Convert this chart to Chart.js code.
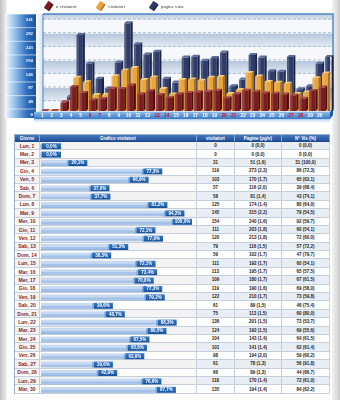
<!DOCTYPE html>
<html>
<head>
<meta charset="utf-8">
<script src="https://cdn.jsdelivr.net/npm/chart.js@4.4.1/dist/chart.umd.min.js"></script>
<style>
html, body { margin: 0; padding: 0; }
body { width: 340px; height: 400px; position: relative; overflow: hidden; background: #fff; font-family: "Liberation Sans", Arial, sans-serif; }
#sideL { position: absolute; left: 0; top: 0; width: 7px; height: 400px; background: linear-gradient(90deg, #c2c2c2, #dedede 60%, #f3f3f3); }
#sideR { position: absolute; right: 0; top: 0; width: 8px; height: 400px; background: linear-gradient(90deg, #f4f4f4, #dfdfdf 50%, #cbcbcb); }
#chart3d { position: absolute; left: 0; top: 0; }
#tbl { position: absolute; left: 14px; top: 134px; display: grid; grid-template-columns: 25px 157px 38px 47px 48px; grid-template-rows: 7px repeat(30, 8.4px); border-left: 1px solid #9cb0c8; border-top: 1px solid #9cb0c8; }
.c { box-sizing: border-box; border-right: 1px solid #c6d0dc; border-bottom: 1px solid #c6d0dc; font-size: 4.5px; font-weight: bold; display: flex; align-items: center; justify-content: center; color: #222; white-space: nowrap; overflow: hidden; }
.h { background: linear-gradient(#4679be, #21509a); color: #fff; border-right-color: #86a6d2; border-bottom-color: #1b4688; }
.g { color: #8a1c1c; font-size: 5px; }
.godd { background: #f3f3f3; }
.geven { background: #fff; }
.odd { background: #e9eef5; }
.even { background: #fff; }
#graf { position: absolute; left: 40px; top: 142px; }
</style>
</head>
<body>
<div id="sideL"></div>
<div id="sideR"></div>
<canvas id="chart3d" width="340" height="128"></canvas>
<div id="tbl"></div>
<canvas id="graf" width="157" height="252"></canvas>
<script>
const dayNames = ['Lun, 1','Mar, 2','Mer, 3','Gio, 4','Ven, 5','Sab, 6','Dom, 7','Lun, 8','Mar, 9','Mer, 10',
  'Gio, 11','Ven, 12','Sab, 13','Dom, 14','Lun, 15','Mar, 16','Mer, 17','Gio, 18','Ven, 19','Sab, 20',
  'Dom, 21','Lun, 22','Mar, 23','Mer, 24','Gio, 25','Ven, 26','Sab, 27','Dom, 28','Lun, 29','Mar, 30'];
const floorLabels = ['1','2','3','4','5','6','7','8','9','10','11','12','13','14','15',
  '16','17','18','19','20','21','22','23','24','25','26','27','28','29','30'];
const visitatori = [0,0,31,119,103,57,58,125,145,154,111,120,79,59,111,113,109,119,122,61,75,136,124,104,101,98,61,66,118,135];
const pagine = [0,0,51,273,170,116,81,174,315,240,203,213,116,102,192,195,180,190,210,89,113,201,192,143,141,194,78,89,170,194];
const pagineRatio = ['0,0','0,0','1,6','2,3','1,7','2,0','1,4','1,4','2,2','1,6','1,8','1,8','1,5','1,7','1,7',
  '1,7','1,7','1,6','1,7','1,5','1,5','1,5','1,5','1,4','1,4','2,0','1,3','1,3','1,4','1,4'];
const nVisite = [0,0,31,86,65,39,43,80,79,92,60,72,57,47,60,65,67,69,73,46,60,73,69,64,62,59,56,44,72,84];
const nVisitePct = ['0,0','0,0','100,0','72,3','63,1','68,4','74,1','64,0','54,5','59,7','54,1','60,0','72,2','79,7','54,1',
  '57,5','61,5','58,0','59,8','75,4','80,0','53,7','55,6','61,5','61,4','60,2','91,8','66,7','61,0','62,2'];
const quota = [0.0,0.0,20.1,77.3,66.9,37.0,37.7,81.2,94.2,100.0,72.1,77.9,51.3,38.3,72.1,
  73.4,70.8,77.3,79.2,39.6,48.7,88.3,80.5,67.5,65.6,63.6,39.6,42.9,76.6,87.7];
const yTicks = [0,48,97,146,194,243,292,341];
const headers = ['Giorno','Grafico visitatori','visitatori','Pagine (pg/v)','N° Vis (%)'];

const weekend = dayNames.map(d => d.startsWith('Sab') || d.startsWith('Dom'));

// wall, banded back panel and floor behind the bars
const backdrop3d = {
  id: 'backdrop3d',
  beforeDraw(chart) {
    const { ctx, chartArea: a, scales: { y } } = chart;
    const off = 4, top = a.top - 2, right = a.right + 3;
    ctx.save();
    const edges = [top].concat(yTicks.slice().reverse().map(v => y.getPixelForValue(v) + off));
    for (let k = 0; k < edges.length - 1; k++) {
      const y0 = edges[k], y1 = edges[k + 1];
      if (k % 2 === 0) {
        const g = ctx.createLinearGradient(0, y0, 0, y1);
        g.addColorStop(0, '#b5c5da');
        g.addColorStop(1, '#e6edf5');
        ctx.fillStyle = g;
      } else {
        ctx.fillStyle = '#f6f8fb';
      }
      ctx.fillRect(a.left, y0, right - a.left, y1 - y0);
    }
    ctx.fillStyle = '#fbfcfd';
    ctx.fillRect(a.left, edges[edges.length - 1], right - a.left, a.bottom + 4 - edges[edges.length - 1]);
    ctx.strokeStyle = '#8fa4bf';
    ctx.lineWidth = 0.7;
    ctx.setLineDash([3, 2]);
    edges.slice(1).forEach(e => {
      ctx.beginPath(); ctx.moveTo(a.left, e - 1); ctx.lineTo(right, e - 1); ctx.stroke();
    });
    ctx.setLineDash([]);
    ctx.strokeStyle = '#4d86c6';
    ctx.lineWidth = 1.5;
    ctx.beginPath(); ctx.moveTo(a.left, top); ctx.lineTo(right, top); ctx.lineTo(right, a.bottom); ctx.stroke();

    // left wall
    const wl = 5, wr = 36;
    const wallG = ctx.createLinearGradient(wl, 0, wr, 0);
    wallG.addColorStop(0, '#f4f8fd');
    wallG.addColorStop(0.35, '#8dbae8');
    wallG.addColorStop(0.7, '#2f70bf');
    wallG.addColorStop(1, '#1a54a2');
    ctx.fillStyle = wallG;
    ctx.fillRect(wl, top, wr - wl, a.bottom + 7 - top);
    ctx.strokeStyle = 'rgba(255,255,255,0.75)';
    ctx.lineWidth = 0.8;
    edges.slice(1).forEach(e => {
      ctx.beginPath(); ctx.moveTo(wl, e - 6); ctx.lineTo(wr, e - 6); ctx.stroke();
    });
    const sideG = ctx.createLinearGradient(wr, 0, a.left, 0);
    sideG.addColorStop(0, '#ffffff');
    sideG.addColorStop(1, '#d2e1f1');
    ctx.fillStyle = sideG;
    ctx.fillRect(wr, top, a.left - wr, a.bottom - top);
    ctx.strokeStyle = '#2f6db8';
    ctx.lineWidth = 0.8;
    ctx.beginPath(); ctx.moveTo(a.left, top); ctx.lineTo(a.left, a.bottom); ctx.stroke();

    // floor
    ctx.fillStyle = '#d5e4f5';
    ctx.beginPath();
    ctx.moveTo(a.left, a.bottom - 1); ctx.lineTo(right, a.bottom - 3);
    ctx.lineTo(right - 3, a.bottom + 1); ctx.lineTo(34, a.bottom + 1); ctx.closePath(); ctx.fill();
    const fG = ctx.createLinearGradient(0, a.bottom + 1, 0, a.bottom + 8);
    fG.addColorStop(0, '#8fbbea');
    fG.addColorStop(0.5, '#6199da');
    fG.addColorStop(1, '#3a78c6');
    ctx.fillStyle = fG;
    ctx.fillRect(34, a.bottom + 1, right - 3 - 34, 7);
    ctx.fillStyle = '#1d58a4';
    ctx.beginPath();
    ctx.moveTo(right - 3, a.bottom + 1); ctx.lineTo(right, a.bottom - 3);
    ctx.lineTo(right, a.bottom + 4); ctx.lineTo(right - 3, a.bottom + 8); ctx.closePath(); ctx.fill();
    const shG = ctx.createLinearGradient(0, a.bottom + 8, 0, a.bottom + 13);
    shG.addColorStop(0, '#a9c8ec');
    shG.addColorStop(1, 'rgba(255,255,255,0)');
    ctx.fillStyle = shG;
    ctx.fillRect(34, a.bottom + 8, right - 3 - 34, 5);
    ctx.restore();
  }
};

// top and side faces of every bar
const faces3d = {
  id: 'faces3d',
  afterDatasetDraw(chart, args) {
    const ds = chart.data.datasets[args.index];
    const ctx = chart.ctx, d = 2;
    ctx.save();
    args.meta.data.forEach(bar => {
      const { x, y, base, width } = bar.getProps(['x', 'y', 'base', 'width'], true);
      const l = x - width / 2, r = x + width / 2;
      ctx.fillStyle = 'rgba(255,255,255,0.16)';
      ctx.fillRect(l, y, width * 0.35, base - y);
      ctx.fillStyle = ds.topColor;
      ctx.beginPath(); ctx.moveTo(l, y); ctx.lineTo(l + d, y - d); ctx.lineTo(r + d, y - d); ctx.lineTo(r, y); ctx.closePath(); ctx.fill();
      ctx.fillStyle = ds.sideColor;
      ctx.beginPath(); ctx.moveTo(r, y); ctx.lineTo(r + d, y - d); ctx.lineTo(r + d, base - d); ctx.lineTo(r, base); ctx.closePath(); ctx.fill();
    });
    ctx.restore();
  }
};

const legend3d = {
  id: 'legend3d',
  afterDraw(chart, args, opts) {
    const ctx = chart.ctx;
    ctx.save();
    chart.data.datasets.forEach((ds, i) => {
      const x = opts.xs[i];
      ctx.save();
      ctx.translate(x + 3.5, 6);
      ctx.rotate(0.6);
      ctx.fillStyle = ds.sideColor;
      ctx.fillRect(-2.5, -4, 6, 8);
      ctx.fillStyle = ds.backgroundColor;
      ctx.fillRect(-3, -4, 5, 7.5);
      ctx.restore();
      ctx.fillStyle = '#3a3a3a';
      ctx.font = '4.8px "Liberation Serif", serif';
      ctx.textBaseline = 'middle';
      ctx.fillText(ds.label, x + 11, 6.5);
    });
    ctx.restore();
  }
};

const tickFont = { family: '"Liberation Sans", Arial, sans-serif', size: 4.8, weight: 'bold' };

new Chart(document.getElementById('chart3d'), {
  type: 'bar',
  data: {
    labels: floorLabels,
    datasets: [
      { label: 'n visitatori', data: nVisite, backgroundColor: '#7b1d20', topColor: '#a8454a', sideColor: '#4a0d10', order: 0 },
      { label: 'visitatori', data: visitatori, backgroundColor: '#eaa53c', topColor: '#f8cc76', sideColor: '#b77516', order: 1 },
      { label: 'pagine viste', data: pagine, backgroundColor: '#2f3c69', topColor: '#5a6b9c', sideColor: '#1a2446', order: 2 }
    ]
  },
  options: {
    responsive: false,
    animation: false,
    layout: { padding: { left: 5, top: 16, right: 10, bottom: 4 } },
    datasets: { bar: { categoryPercentage: 1.0, barPercentage: 2.0, borderWidth: 0 } },
    plugins: {
      legend: { display: false },
      tooltip: { enabled: false },
      legend3d: { xs: [45, 97, 150] }
    },
    scales: {
      x: {
        grid: { display: false, drawTicks: false },
        border: { display: false },
        ticks: {
          autoSkip: false, maxRotation: 0, labelOffset: -5.5, padding: 2,
          font: tickFont,
          color: c => weekend[c.index] ? '#d0101c' : '#ffffff'
        },
        afterFit: s => { s.height = 13; }
      },
      y: {
        min: 0,
        max: 341,
        grid: { display: false, drawTicks: false },
        border: { display: false },
        afterBuildTicks: s => { s.ticks = yTicks.map(v => ({ value: v })); },
        ticks: { color: '#ffffff', font: { family: '"Liberation Serif", serif', size: 4.8, weight: 'bold' }, labelOffset: 4, padding: 10 },
        afterFit: s => { s.width = 38; }
      }
    }
  },
  plugins: [backdrop3d, faces3d, legend3d]
});

// table
const tbl = document.getElementById('tbl');
function cell(text, cls) {
  const el = document.createElement('div');
  el.className = cls;
  el.textContent = text;
  tbl.appendChild(el);
}
headers.forEach(t => cell(t, 'c h'));
dayNames.forEach((d, i) => {
  const z = i % 2 === 0 ? 'odd' : 'even';
  cell(d, 'c g ' + (i % 2 === 0 ? 'godd' : 'geven'));
  cell('', 'c ' + (i % 2 === 0 ? 'godd' : 'geven'));
  cell(String(visitatori[i]), 'c ' + z);
  cell(pagine[i] + ' (' + pagineRatio[i] + ')', 'c ' + z);
  cell(nVisite[i] + ' (' + nVisitePct[i] + ')', 'c ' + z);
});

// percent tags at the end of the table bars
const quotaTags = {
  id: 'quotaTags',
  afterDatasetsDraw(chart) {
    const ctx = chart.ctx;
    const meta = chart.getDatasetMeta(0);
    ctx.save();
    meta.data.forEach((bar, i) => {
      const { x, y, base, height } = bar.getProps(['x', 'y', 'base', 'height'], true);
      ctx.fillStyle = 'rgba(255,255,255,0.4)';
      ctx.fillRect(base, y - height / 2, x - base, height / 2);
      const bx = x + 1, by = y - 3, w = 19, h = 6;
      ctx.fillStyle = '#79a9de';
      ctx.beginPath();
      ctx.moveTo(bx - 1.5, by + 1); ctx.lineTo(bx, by); ctx.lineTo(bx, by + h); ctx.lineTo(bx - 1.5, by + h + 0.5);
      ctx.closePath(); ctx.fill();
      const g = ctx.createLinearGradient(0, by, 0, by + h);
      g.addColorStop(0, '#3a7cc8');
      g.addColorStop(1, '#16519d');
      ctx.fillStyle = g;
      ctx.fillRect(bx, by, w, h);
      ctx.fillStyle = '#ffffff';
      ctx.font = 'bold 4.5px "Liberation Sans", Arial, sans-serif';
      ctx.textAlign = 'center';
      ctx.textBaseline = 'middle';
      ctx.fillText(quota[i].toFixed(1).replace('.', ',') + '%', bx + w / 2, y + 0.2);
    });
    ctx.restore();
  }
};

new Chart(document.getElementById('graf'), {
  type: 'bar',
  data: {
    labels: dayNames,
    datasets: [{
      data: quota,
      backgroundColor: '#a3c1e9',
      borderColor: '#6e9ad2',
      borderWidth: { top: 0, left: 0, right: 0.8, bottom: 0.8 },
      borderSkipped: false,
      barPercentage: 0.72,
      categoryPercentage: 1
    }]
  },
  options: {
    indexAxis: 'y',
    responsive: false,
    animation: false,
    layout: { padding: { left: 1, right: 25, top: 0, bottom: 0 } },
    plugins: { legend: { display: false }, tooltip: { enabled: false } },
    scales: {
      x: { display: false, min: 0, max: 100 },
      y: { display: false }
    }
  },
  plugins: [quotaTags]
});
</script>
</body>
</html>
